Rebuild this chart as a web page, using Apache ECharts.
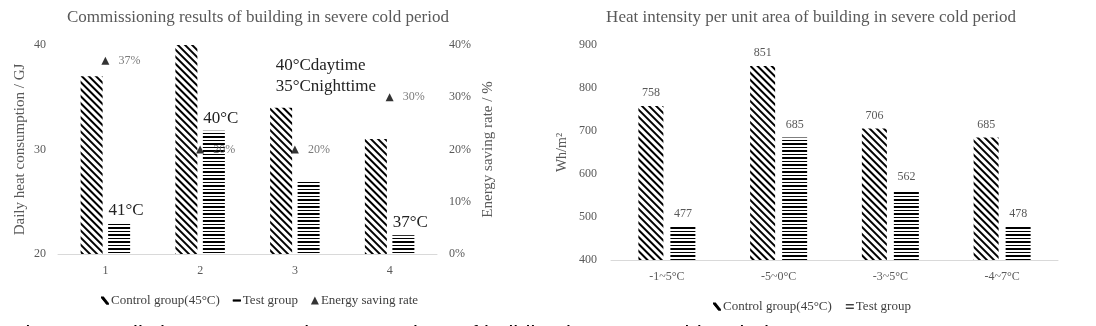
<!DOCTYPE html>
<html><head><meta charset="utf-8">
<script src="https://cdn.jsdelivr.net/npm/echarts@6/dist/echarts.min.js"></script>
<style>html,body{margin:0;padding:0;background:#fff}#c{width:1096px;height:326px}</style>
</head><body><div id="c"></div>
<script>
// Left chart data
const leftCategories = ['1', '2', '3', '4'];
const leftControl = [37, 40, 34, 31];
const leftTest = [23, 31.8, 27, 21.8];
const leftSaving = [37, 20, 20, 30];
const leftTestNotes = ['41°C', '40°C', '40°Cdaytime\n35°Cnighttime', '37°C'];
// Right chart data
const rightCategories = ['-1~5°C', '-5~0°C', '-3~5°C', '-4~7°C'];
const rightControl = [758, 851, 706, 685];
const rightTest = [477, 685, 562, 478];

const serif = 'Liberation Serif';
const gray = '#595959';
const diagDecal = { symbol: 'rect', symbolSize: 1, dashArrayX: [1, 0], dashArrayY: [2, 3], rotation: Math.PI / 4, color: '#000' };
const horizDecal = { symbol: 'rect', symbolSize: 1, dashArrayX: [1, 0], dashArrayY: [1, 2, 2, 2], rotation: 0, color: '#000' };

const chart = echarts.init(document.getElementById('c'));
const ctrlIcon = 'path://M0,0L2,0L6,5L6,6L4,6L0,1Z';
const dashIcon = 'path://M0,5H6V6.5H0Z';
const eqIcon = 'path://M0,3H7V4H0ZM0,6H7V7H0Z';

chart.setOption({
  animation: false,
  backgroundColor: '#fff',
  title: [
    { text: 'Commissioning results of building in severe cold period', left: 253, top: 4, textAlign: 'center',
      textStyle: { fontFamily: serif, fontSize: 17, fontWeight: 'normal', color: gray } },
    { text: 'Heat intensity per unit area of building in severe cold period', left: 806, top: 4, textAlign: 'center',
      textStyle: { fontFamily: serif, fontSize: 17, fontWeight: 'normal', color: gray } }
  ],
  legend: [
    { left: 96, top: 289, itemWidth: 8, itemHeight: 8, itemGap: 13,
      textStyle: { fontFamily: serif, fontSize: 13, color: '#404040', padding: [0, 0, 0, -3] },
      data: [
        { name: 'Control group(45°C)', icon: ctrlIcon, itemStyle: { color: '#000', decal: null } },
        { name: 'Test group', icon: dashIcon, itemStyle: { color: '#000', decal: null } },
        { name: 'Energy saving rate', icon: 'triangle', itemStyle: { color: '#000' } }
      ] },
    { left: 708, top: 295, itemWidth: 8, itemHeight: 8, itemGap: 14,
      textStyle: { fontFamily: serif, fontSize: 13, color: '#404040', padding: [0, 0, 0, -3] },
      data: [
        { name: 'Control group(45°C)', icon: ctrlIcon, itemStyle: { color: '#000', decal: null } },
        { name: 'Test group', icon: eqIcon, itemStyle: { color: '#000', decal: null } }
      ] }
  ],
  grid: [
    { left: 58, top: 45, width: 379, height: 209 },
    { left: 611, top: 45, width: 447, height: 215 }
  ],
  xAxis: [
    { type: 'category', gridIndex: 0, data: leftCategories,
      axisLine: { lineStyle: { color: '#d9d9d9' } }, axisTick: { show: false },
      axisLabel: { color: gray, fontFamily: serif, fontSize: 12, margin: 11 } },
    { type: 'category', gridIndex: 1, data: rightCategories,
      axisLine: { lineStyle: { color: '#d9d9d9' } }, axisTick: { show: false },
      axisLabel: { color: gray, fontFamily: serif, fontSize: 12, margin: 11 } }
  ],
  yAxis: [
    { type: 'value', gridIndex: 0, min: 20, max: 40, interval: 10,
      name: 'Daily heat consumption / GJ', nameLocation: 'middle', nameGap: 30, nameRotate: 90,
      nameTextStyle: { fontFamily: serif, fontSize: 15, color: gray },
      splitLine: { show: false }, axisLine: { show: false }, axisTick: { show: false },
      axisLabel: { color: gray, fontFamily: serif, fontSize: 12, margin: 12 } },
    { type: 'value', gridIndex: 0, min: 0, max: 40, interval: 10, position: 'right',
      name: 'Energy saving rate / %', nameLocation: 'middle', nameGap: 44, nameRotate: 90,
      nameTextStyle: { fontFamily: serif, fontSize: 15, color: gray },
      splitLine: { show: false }, axisLine: { show: false }, axisTick: { show: false },
      axisLabel: { color: gray, fontFamily: serif, fontSize: 12, margin: 12, formatter: '{value}%' } },
    { type: 'value', gridIndex: 1, min: 400, max: 900, interval: 100,
      name: 'Wh/m²', nameLocation: 'middle', nameGap: 42, nameRotate: 90,
      nameTextStyle: { fontFamily: serif, fontSize: 14, color: gray },
      splitLine: { show: false }, axisLine: { show: false }, axisTick: { show: false },
      axisLabel: { color: gray, fontFamily: serif, fontSize: 12, margin: 14 } }
  ],
  series: [
    { name: 'Control group(45°C)', type: 'bar', xAxisIndex: 0, yAxisIndex: 0, data: leftControl,
      barWidth: 22, barGap: '25%', itemStyle: { color: '#fff', decal: diagDecal } },
    { name: 'Test group', type: 'bar', xAxisIndex: 0, yAxisIndex: 0,
      data: leftTest.map((v, i) => ({
        value: v,
        label: i === 2
          ? { show: true, position: 'top', offset: [-33, -79], align: 'left', lineHeight: 21 }
          : { show: true, position: 'top', distance: 4, offset: [7, 0] }
      })),
      barWidth: 22, barGap: '25%', itemStyle: { color: '#fff', decal: horizDecal },
      label: { show: true, color: '#222', fontFamily: serif, fontSize: 17,
        formatter: p => leftTestNotes[p.dataIndex] } },
    { name: 'Energy saving rate', type: 'scatter', xAxisIndex: 0, yAxisIndex: 1, data: leftSaving,
      symbol: 'triangle', symbolSize: 8, itemStyle: { color: '#000' },
      label: { show: true, position: 'right', distance: 9, color: gray, fontFamily: serif, fontSize: 12,
        formatter: p => p.value + '%' } },
    { name: 'Control group(45°C)', type: 'bar', xAxisIndex: 1, yAxisIndex: 2, data: rightControl,
      barWidth: 25, barGap: '28%', itemStyle: { color: '#fff', decal: diagDecal },
      label: { show: true, position: 'top', distance: 7, color: gray, fontFamily: serif, fontSize: 12 } },
    { name: 'Test group', type: 'bar', xAxisIndex: 1, yAxisIndex: 2, data: rightTest,
      barWidth: 25, barGap: '28%', itemStyle: { color: '#fff', decal: horizDecal },
      label: { show: true, position: 'top', distance: 7, color: gray, fontFamily: serif, fontSize: 12 } }
  ],
  graphic: [
    { type: 'text', left: 12, top: 324, style: { text: 'Figure 7  Daily heat consumption comparison of building in severe cold period',
      fill: '#000', font: '22px "Liberation Sans"' } }
  ]
});
</script></body></html>
